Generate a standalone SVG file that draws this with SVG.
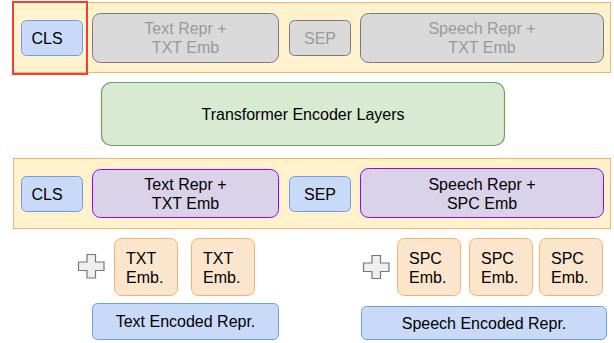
<svg xmlns="http://www.w3.org/2000/svg" width="614" height="343" viewBox="0 0 614 343">
<style>
text{font-family:"Liberation Sans",Arial,sans-serif;font-size:16px;fill:#000;text-anchor:middle}
.band{fill:#fff2cc;stroke:#f6b26b;stroke-width:1}
.blue{fill:#c9daf8;stroke:#6d9eeb;stroke-width:1}
.gray{fill:#d9d9d9;stroke:#7a7a7a;stroke-width:1}
.grayt{fill:#999999}
.green{fill:#d9ead3;stroke:#6f9d5c;stroke-width:1.2}
.purple{fill:#d9d2e9;stroke:#9900ff;stroke-width:1}
.orange{fill:#fce5cd;stroke:#f6b26b;stroke-width:1}
.plus{fill:#efefef;stroke:#777777;stroke-width:1.2}
.l{text-anchor:start}
</style>
<rect width="614" height="343" fill="#ffffff"/>
<g id="top-band"><rect class="band" x="13.5" y="2.5" width="597" height="70"/></g>
<g id="top-cls"><rect class="blue" x="21.5" y="20.5" width="61" height="35" rx="5"/><text x="47" y="43.5">CLS</text></g>
<g id="top-text"><rect class="gray" x="92.5" y="13.5" width="186" height="49" rx="8"/><text class="grayt" x="185.5" y="34">Text Repr +</text><text class="grayt" x="185.5" y="52.5">TXT Emb</text></g>
<g id="top-sep"><rect class="gray" x="289.5" y="20.5" width="61" height="35" rx="5"/><text class="grayt" x="320" y="43.5">SEP</text></g>
<g id="top-speech"><rect class="gray" x="360.5" y="13.5" width="243" height="49" rx="8"/><text class="grayt" x="482" y="34">Speech Repr +</text><text class="grayt" x="482" y="52.5">TXT Emb</text></g>
<g id="highlight"><rect x="13" y="2" width="74" height="72" fill="none" stroke="#ea4335" stroke-width="2"/></g>
<g id="transformer"><rect class="green" x="101.5" y="82.5" width="403" height="63" rx="10"/><text x="303" y="120">Transformer Encoder Layers</text></g>
<g id="mid-band"><rect class="band" x="13.5" y="158.5" width="597" height="70"/></g>
<g id="mid-cls"><rect class="blue" x="21.5" y="176.5" width="61" height="35" rx="5"/><text x="47" y="199.5">CLS</text></g>
<g id="mid-text"><rect class="purple" x="92.5" y="169.5" width="186" height="48" rx="8"/><text x="185.5" y="189.5">Text Repr +</text><text x="185.5" y="208.5">TXT Emb</text></g>
<g id="mid-sep"><rect class="blue" x="289.5" y="176.5" width="61" height="35" rx="5"/><text x="320" y="199.5">SEP</text></g>
<g id="mid-speech"><rect class="purple" x="360.5" y="168.5" width="243" height="49" rx="8"/><text x="482" y="189.5">Speech Repr +</text><text x="482" y="208.5">SPC Emb</text></g>
<g id="plus-text"><path class="plus" d="M87,254.5 h8.5 v7.5 h8.5 v8.5 h-8.5 v7.5 h-8.5 v-7.5 h-8.5 v-8.5 h8.5 z"/></g>
<g id="txt-emb-1"><rect class="orange" x="114.5" y="238.5" width="63" height="57" rx="7"/><text class="l" x="126" y="263.5">TXT</text><text class="l" x="126" y="282.5">Emb.</text></g>
<g id="txt-emb-2"><rect class="orange" x="191.5" y="238.5" width="63" height="57" rx="7"/><text class="l" x="203" y="263.5">TXT</text><text class="l" x="203" y="282.5">Emb.</text></g>
<g id="text-encoded"><rect class="blue" x="92.5" y="303.5" width="186" height="36" rx="5"/><text x="185.5" y="327">Text Encoded Repr.</text></g>
<g id="plus-speech"><path class="plus" d="M372,255.5 h8.5 v7.5 h8.5 v8.5 h-8.5 v7 h-8.5 v-7 h-8.5 v-8.5 h8.5 z"/></g>
<g id="spc-emb-1"><rect class="orange" x="397.5" y="238.5" width="63" height="57" rx="7"/><text class="l" x="409" y="263.5">SPC</text><text class="l" x="409" y="282.5">Emb.</text></g>
<g id="spc-emb-2"><rect class="orange" x="469.5" y="238.5" width="63" height="57" rx="7"/><text class="l" x="481" y="263.5">SPC</text><text class="l" x="481" y="282.5">Emb.</text></g>
<g id="spc-emb-3"><rect class="orange" x="539.5" y="238.5" width="63" height="57" rx="7"/><text class="l" x="551" y="263.5">SPC</text><text class="l" x="551" y="282.5">Emb.</text></g>
<g id="speech-encoded"><rect class="blue" x="361.5" y="306.5" width="245" height="33" rx="5"/><text x="484" y="329">Speech Encoded Repr.</text></g>
<g id="connectors"></g>
</svg>
